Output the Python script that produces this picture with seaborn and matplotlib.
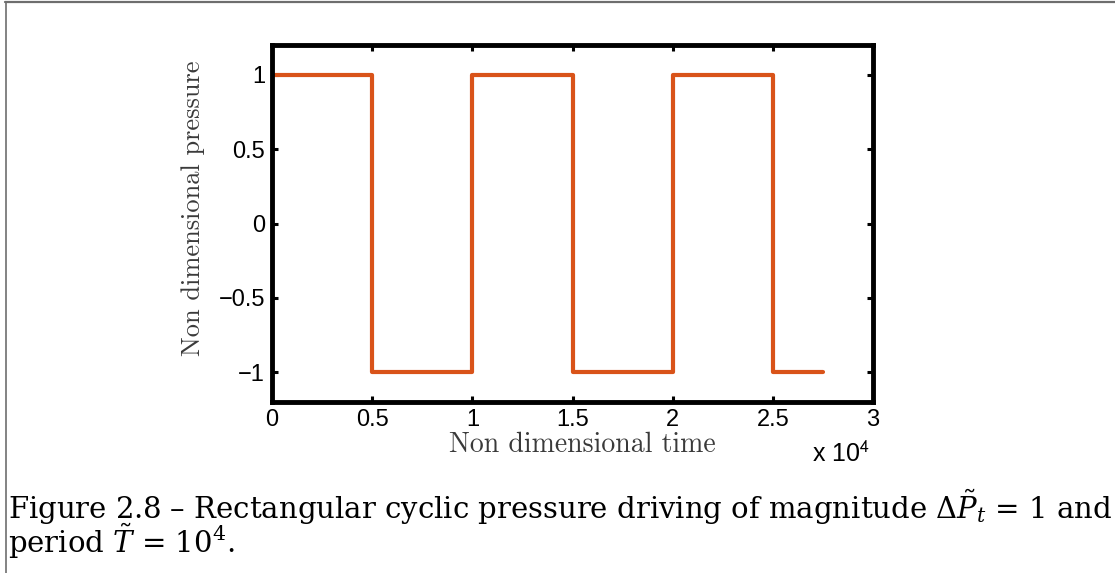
import matplotlib
matplotlib.use("Agg")
import matplotlib.pyplot as plt
from matplotlib.ticker import FuncFormatter
from matplotlib.lines import Line2D
import pandas as pd
import seaborn as sns

# Square-wave pressure driving: switch times and the level held after each switch
switch_times = [0, 5000, 10000, 15000, 20000, 25000, 27500]
pressure_levels = [1, -1, 1, -1, 1, -1, -1]

x_ticks = [0, 5000, 10000, 15000, 20000, 25000, 30000]
y_ticks = [-1, -0.5, 0, 0.5, 1]

x_label = "Non dimensional time"
y_label = "Non dimensional pressure"
caption_line1 = r"Figure 2.8 – Rectangular cyclic pressure driving of magnitude $\Delta\tilde{P}_t$ = 1 and"
caption_line2 = r"period $\tilde{T}$ = 10$^{4}$."

sns.set_style("ticks")
plt.rcParams["font.family"] = ["Liberation Sans", "DejaVu Sans"]
plt.rcParams["mathtext.fontset"] = "dejavuserif"

df = pd.DataFrame({"t": switch_times, "p": pressure_levels})

fig = plt.figure(figsize=(11.15, 5.73), dpi=100)
ax = fig.add_axes([272 / 1115, 1 - 402 / 573, 601 / 1115, 357 / 573])

sns.lineplot(data=df, x="t", y="p", ax=ax, drawstyle="steps-post",
             color="#D95319", linewidth=3.0, estimator=None, sort=False)

ax.set_xlim(0, 30000)
ax.set_ylim(-1.2, 1.2)
ax.set_xticks(x_ticks)
ax.set_yticks(y_ticks)

def fmt_x(v, pos):
    return "%g" % (v / 1e4)

def fmt_y(v, pos):
    return ("%g" % v).replace("-", "\u2212")

ax.xaxis.set_major_formatter(FuncFormatter(fmt_x))
ax.yaxis.set_major_formatter(FuncFormatter(fmt_y))

for side in ["left", "right", "top", "bottom"]:
    ax.spines[side].set_visible(True)
    ax.spines[side].set_linewidth(3.5)
    ax.spines[side].set_color("black")

ax.tick_params(axis="both", which="major", direction="in", length=4, width=2.2,
               top=True, right=True, labelsize=17, colors="black")
ax.tick_params(axis="x", pad=5)
ax.tick_params(axis="y", pad=5)

ax.set_xlabel(x_label, fontname="cmr10", fontsize=20, color="#3a3a3a")
ax.set_ylabel(y_label, fontname="cmr10", fontsize=19, color="#3a3a3a")
ax.xaxis.set_label_coords(0.517, -0.082)
ax.yaxis.set_label_coords(-0.112, 0.543)

# Exponent of the time axis
ax.text(0.995, -0.168, r"x 10$^{\mathsf{4}}$", transform=ax.transAxes,
        ha="right", va="baseline", fontsize=18, color="black",
        math_fontfamily="stixsans")

# Caption under the plot
fig.text(8 / 1115, 1 - 519 / 573, caption_line1, ha="left", va="baseline",
         fontsize=21, family="DejaVu Serif", color="black")
fig.text(8 / 1115, 1 - 553 / 573, caption_line2, ha="left", va="baseline",
         fontsize=21, family="DejaVu Serif", color="black")

# Page frame
fig.add_artist(Line2D([5 / 1115, 1], [1 - 1.5 / 573, 1 - 1.5 / 573],
                      transform=fig.transFigure, color="#6e6e6e", linewidth=1.6))
fig.add_artist(Line2D([5.5 / 1115, 5.5 / 1115], [0, 1 - 1.5 / 573],
                      transform=fig.transFigure, color="#6e6e6e", linewidth=1.2))

fig.savefig("out.png", dpi=100, facecolor="white")
